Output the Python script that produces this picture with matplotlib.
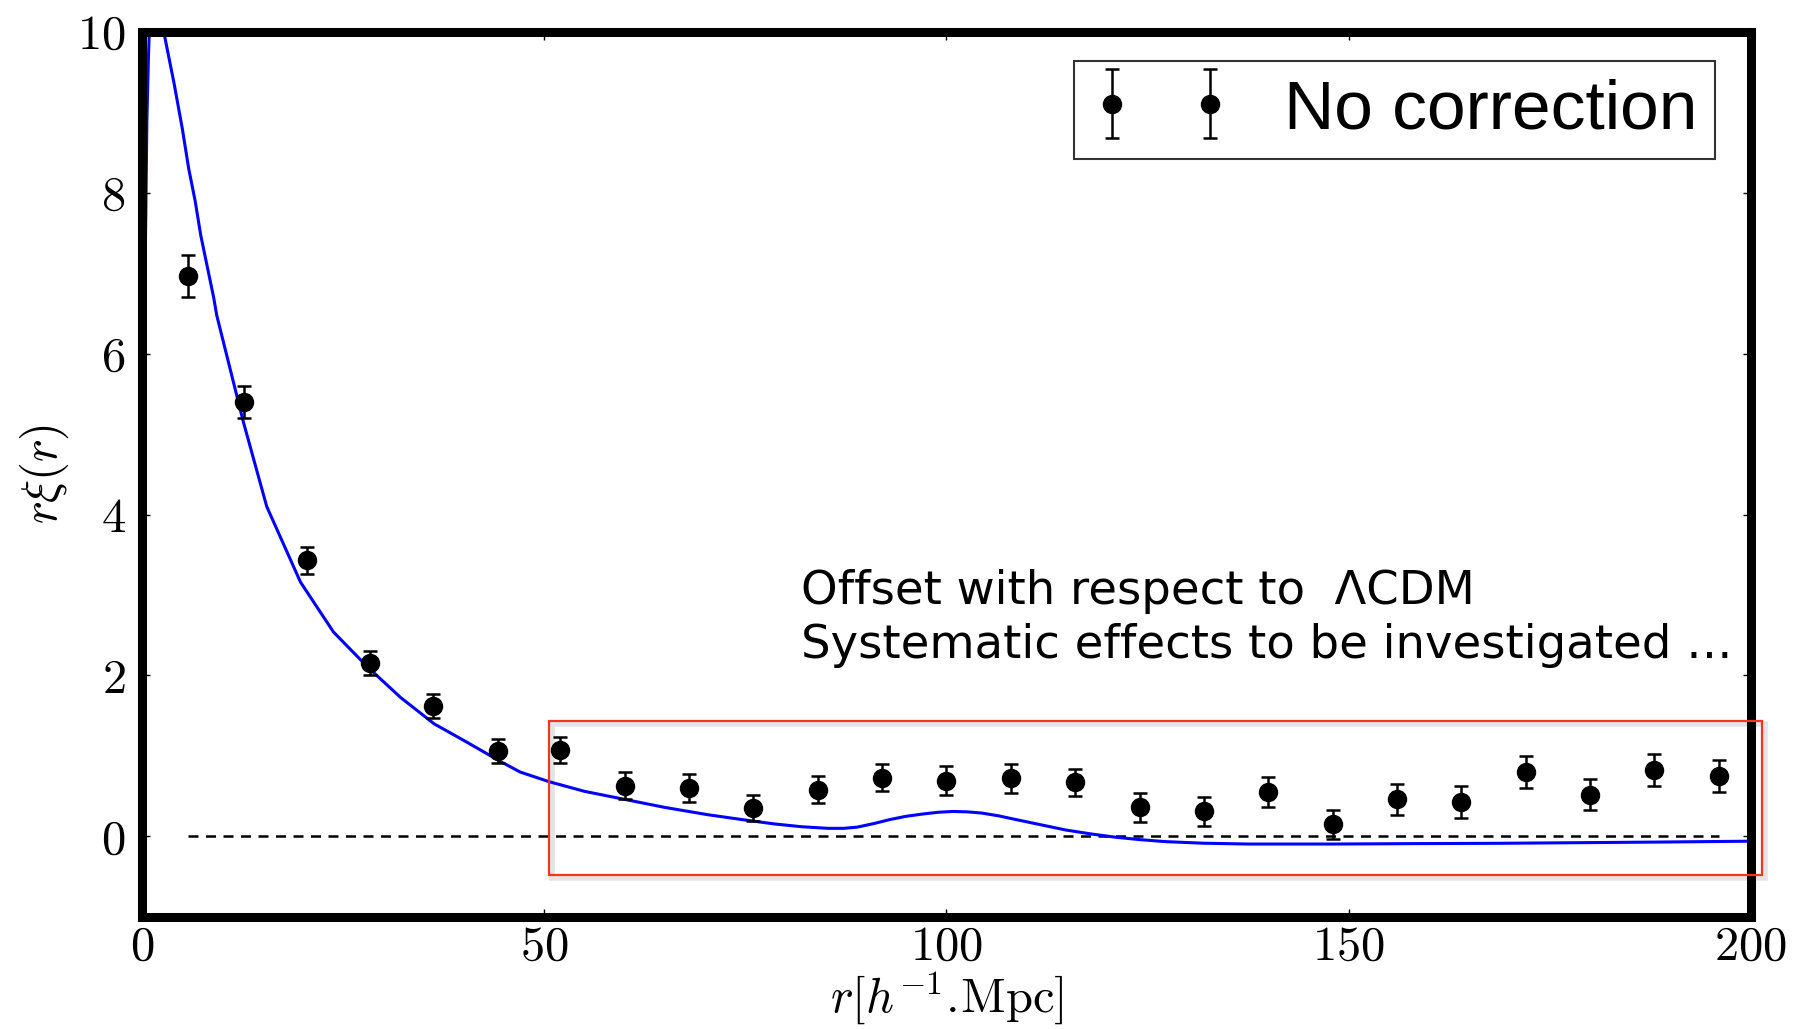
import numpy as np
import matplotlib
matplotlib.use("Agg")
import matplotlib.pyplot as plt
from matplotlib.patches import Rectangle

plt.rcParams['font.family'] = 'serif'
plt.rcParams['font.serif'] = ['cmr10']
plt.rcParams['mathtext.fontset'] = 'cm'
plt.rcParams['axes.formatter.use_mathtext'] = True

# measured correlation function r*xi(r)
r = [5.7, 12.7, 20.5, 28.3, 36.2, 44.2, 52.0, 60.0, 68.0, 76.0, 84.0, 92.0, 100.0,
     108.0, 116.0, 124.0, 132.0, 140.0, 148.0, 156.0, 164.0, 172.0, 180.0, 188.0, 196.0]
rxi = [6.97, 5.40, 3.43, 2.16, 1.62, 1.06, 1.07, 0.63, 0.60, 0.35, 0.58, 0.73, 0.69,
       0.72, 0.67, 0.36, 0.31, 0.55, 0.15, 0.46, 0.43, 0.80, 0.52, 0.83, 0.75]
err = [0.26, 0.20, 0.17, 0.15, 0.15, 0.15, 0.16, 0.17, 0.17, 0.16, 0.17, 0.17, 0.18,
       0.18, 0.17, 0.18, 0.18, 0.19, 0.18, 0.19, 0.20, 0.20, 0.19, 0.20, 0.20]

# LCDM model curve
r_model = [0.2, 0.4, 0.6, 0.8, 1.0, 1.4, 1.9, 2.4, 2.7, 4.0, 5.0, 5.8, 6.6, 7.3, 8.9, 9.3,
           12.6, 15.5, 19.7, 23.8, 28.0, 32.1, 36.3, 40.4, 44.4, 47.0, 50.6, 55.0, 60.0,
           65.0, 70.3, 74.5, 78.6, 82.0, 85.3, 87.2, 88.9, 91.0, 93.0, 95.0, 97.2, 99.0,
           100.8, 102.6, 104.4, 106.5, 108.6, 111.7, 114.8, 118.0, 121.0, 124.0, 127.2,
           132.0, 137.5, 147.9, 158.0, 168.5, 179.0, 189.2, 199.6]
rxi_model = [4.5, 7.2, 8.9, 9.7, 10.3, 11.1, 11.3, 10.9, 10.0, 9.35, 8.8, 8.3, 7.9, 7.47,
             6.70, 6.47, 5.15, 4.1, 3.16, 2.54, 2.11, 1.73, 1.40, 1.17, 0.94, 0.80, 0.68,
             0.56, 0.46, 0.36, 0.27, 0.21, 0.155, 0.12, 0.10, 0.10, 0.115, 0.16, 0.21,
             0.25, 0.28, 0.30, 0.31, 0.305, 0.29, 0.255, 0.21, 0.145, 0.08, 0.03, -0.01,
             -0.04, -0.065, -0.085, -0.095, -0.095, -0.09, -0.086, -0.078, -0.07, -0.06]

fig = plt.figure(figsize=(18.05, 10.29), dpi=100)
ax = fig.add_axes([0.0787, 0.109, 0.8913, 0.860])

ax.plot(r_model, rxi_model, color='blue', lw=2.2, zorder=2)
ax.plot([r[0], r[-1]], [0, 0], 'k--', lw=1.8, dashes=(4, 3), zorder=1)
ax.errorbar(r, rxi, yerr=err, fmt='o', color='black', ms=13, elinewidth=1.8,
            capsize=5, capthick=1.8, label='No correction', zorder=3)

ax.set_xlim(0, 200)
ax.set_ylim(-1, 10)
ax.set_xticks([0, 50, 100, 150, 200])
ax.set_yticks([0, 2, 4, 6, 8, 10])
for s in ax.spines.values():
    s.set_linewidth(6.5)
ax.tick_params(direction='in', top=True, right=True, length=6, width=1,
               labelsize=35)
ax.tick_params(axis='x', pad=6)
ax.tick_params(axis='y', pad=12)
ax.set_xlabel(r'$r[h^{-1}.\!\mathrm{Mpc}]$', fontsize=35, labelpad=0)
ax.set_ylabel(r'$r\xi(r)$', fontsize=35, labelpad=4)

leg = ax.legend(loc='upper right', bbox_to_anchor=(0.950, 0.941),
                bbox_transform=fig.transFigure, numpoints=2, fancybox=False,
                prop={'family': 'Liberation Sans', 'size': 50}, borderpad=0.25,
                handlelength=2.01, handletextpad=0.77, borderaxespad=0)
leg.get_frame().set_edgecolor('black')
leg.get_frame().set_linewidth(1.5)

# highlight box with a soft shadow
ax.add_patch(Rectangle((51.0, -0.52), 150.8, 1.92, fill=False, ec='#e4e4e4', lw=4,
                       clip_on=False, zorder=0))
ax.add_patch(Rectangle((50.6, -0.48), 150.8, 1.92, fill=False, ec='#f2361c',
                       lw=1.6, clip_on=False, zorder=4))

fig.text(0.444, 0.413, 'Offset with respect to  ΛCDM', fontsize=33.5,
         family='DejaVu Sans', color='black')
fig.text(0.444, 0.361, 'Systematic effects to be investigated …', fontsize=33.5,
         family='DejaVu Sans', color='black')

fig.savefig('out.png', dpi=100)
